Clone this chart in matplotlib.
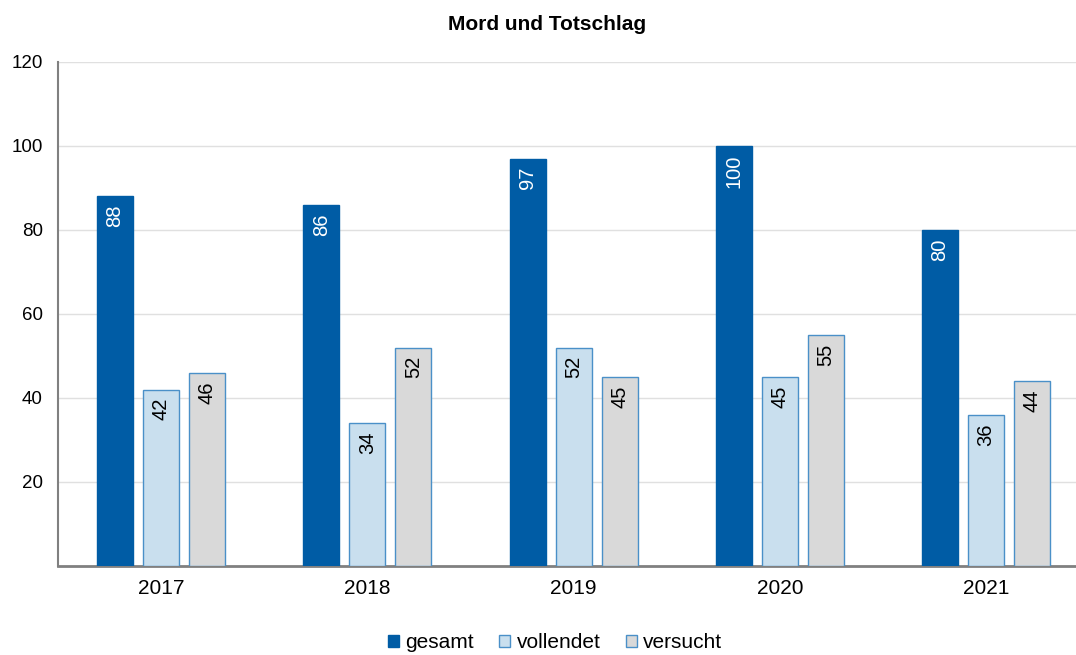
import matplotlib
matplotlib.use("Agg")
import matplotlib.pyplot as plt
import numpy as np

plt.rcParams['font.family'] = ['Liberation Sans', 'DejaVu Sans']

years = ["2017", "2018", "2019", "2020", "2021"]
gesamt = [88, 86, 97, 100, 80]
vollendet = [42, 34, 52, 45, 36]
versucht = [46, 52, 45, 55, 44]
series_names = ["gesamt", "vollendet", "versucht"]

W, H = 1076, 655
fig = plt.figure(figsize=(W / 100, H / 100), dpi=100)
ax = fig.add_axes([58 / W, (H - 566) / H, 1 - 58 / W, (566 - 62) / H])

x = np.arange(len(years))
bw = 0.1745
off = 0.223
face = ["#005CA5", "#C9DFEE", "#D9D9D9"]
edge = ["#005CA5", "#4A90C8", "#4A90C8"]
txtc = ["white", "black", "black"]

for i, (vals, name) in enumerate(zip([gesamt, vollendet, versucht], series_names)):
    xs = x + (i - 1) * off
    ax.bar(xs, vals, bw, color=face[i], edgecolor=edge[i], linewidth=1.0,
           label=name, zorder=3)
    for xi, v in zip(xs, vals):
        ax.annotate(str(v), (xi, v), xytext=(0, -6), textcoords="offset points",
                    ha="center", va="top", rotation=90, fontsize=14.5,
                    color=txtc[i], zorder=4)

ax.set_xlim(-0.5, (1076 - 161) / 206.25)
ax.set_ylim(0, 120)
ax.set_yticks([20, 40, 60, 80, 100, 120])
ax.set_xticks(x)
ax.set_xticklabels(years)
ax.tick_params(axis='both', length=0, colors='black')
ax.tick_params(axis='x', pad=9, labelsize=15)
ax.tick_params(axis='y', pad=11, labelsize=13.5)
ax.grid(axis='y', color='#E0E0E0', linewidth=1.0, zorder=0)
for s in ['top', 'right']:
    ax.spines[s].set_visible(False)
ax.spines['left'].set_color('#808080')
ax.spines['left'].set_linewidth(1.5)
ax.spines['bottom'].set_color('#808080')
ax.spines['bottom'].set_linewidth(2.0)

fig.text(547 / W, 1 - 24 / H, "Mord und Totschlag", ha="center", va="center",
         fontsize=15, fontweight="bold")

leg = fig.legend(loc="center", bbox_to_anchor=(555 / W, 1 - 643 / H), ncol=3,
                 frameon=False, fontsize=15, handlelength=0.55, handleheight=0.55,
                 handletextpad=0.3, columnspacing=1.2)

fig.savefig("out.png", dpi=100)
